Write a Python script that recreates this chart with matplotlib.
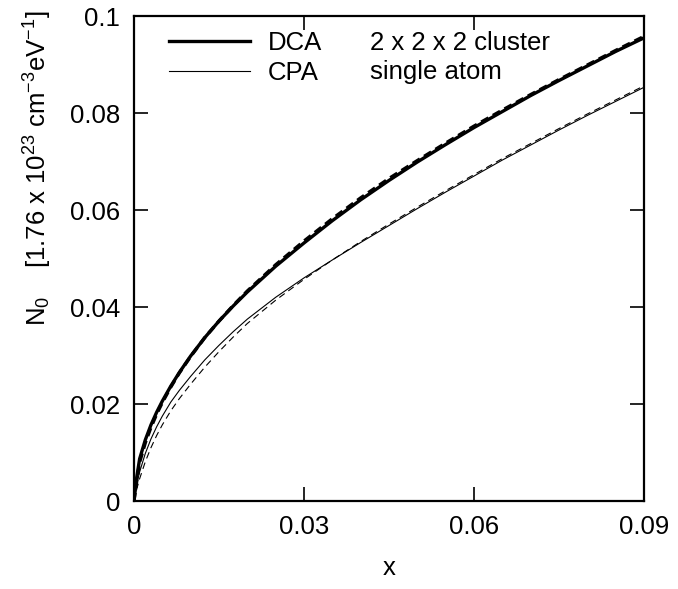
import matplotlib
matplotlib.use("Agg")
import matplotlib.pyplot as plt
from matplotlib.lines import Line2D

plt.rcParams['font.family'] = ['Liberation Sans', 'DejaVu Sans']
plt.rcParams['mathtext.fontset'] = 'custom'
plt.rcParams['mathtext.rm'] = 'Liberation Sans'
plt.rcParams['mathtext.it'] = 'Liberation Sans'
plt.rcParams['mathtext.default'] = 'regular'

# shared x grid
x_vals = [0, 0.0005, 0.001, 0.002, 0.003, 0.004, 0.005, 0.0065, 0.008, 0.01,
          0.0125, 0.015, 0.0175, 0.02, 0.025, 0.03, 0.035, 0.04, 0.045, 0.05,
          0.055, 0.06, 0.065, 0.07, 0.075, 0.08, 0.085, 0.09]

# DCA 2x2x2 cluster
dca_solid = [0, 0.0050, 0.0087, 0.0126, 0.0157, 0.0183, 0.0206, 0.0237, 0.0265, 0.0299,
             0.0337, 0.0371, 0.0402, 0.0431, 0.0484, 0.0532, 0.0578, 0.0621, 0.0661, 0.0699,
             0.0735, 0.0770, 0.0803, 0.0836, 0.0867, 0.0897, 0.0927, 0.0955]
dca_dashed = [0, 0.0042, 0.0080, 0.0120, 0.0152, 0.0179, 0.0203, 0.0235, 0.0264, 0.0298,
              0.0337, 0.0371, 0.0403, 0.0433, 0.0487, 0.0536, 0.0582, 0.0625, 0.0665, 0.0702,
              0.0738, 0.0773, 0.0806, 0.0838, 0.0869, 0.0899, 0.0929, 0.0958]

# CPA single atom
cpa_solid = [0, 0.0035, 0.0060, 0.0098, 0.0128, 0.0153, 0.0175, 0.0204, 0.0228, 0.0257,
             0.0291, 0.0321, 0.0349, 0.0375, 0.0420, 0.0460, 0.0497, 0.0533, 0.0568, 0.0603,
             0.0637, 0.0670, 0.0703, 0.0734, 0.0765, 0.0795, 0.0824, 0.0853]
cpa_dashed = [0, 0.0025, 0.0046, 0.0081, 0.0110, 0.0135, 0.0157, 0.0186, 0.0211, 0.0241,
              0.0276, 0.0308, 0.0338, 0.0366, 0.0414, 0.0457, 0.0497, 0.0535, 0.0571, 0.0606,
              0.0640, 0.0673, 0.0706, 0.0737, 0.0768, 0.0798, 0.0827, 0.0856]

xticks = [0, 0.03, 0.06, 0.09]
xticklabels = ['0', '0.03', '0.06', '0.09']
yticks = [0, 0.02, 0.04, 0.06, 0.08, 0.1]
yticklabels = ['0', '0.02', '0.04', '0.06', '0.08', '0.1']

fig = plt.figure(figsize=(6.78, 5.89), dpi=100)
ax = fig.add_axes([0.1976, 0.1494, 0.7523, 0.8234])

ax.plot(x_vals, dca_solid, color='black', lw=2.4)
ax.plot(x_vals, dca_dashed, color='black', lw=2.4, ls=(0, (2.5, 1.5)))
ax.plot(x_vals, cpa_solid, color='black', lw=0.8)
ax.plot(x_vals, cpa_dashed, color='black', lw=0.8, ls=(0, (6, 4)))

ax.set_xlim(0, 0.09)
ax.set_ylim(0, 0.1)
ax.set_xticks(xticks)
ax.set_xticklabels(xticklabels)
ax.set_yticks(yticks)
ax.set_yticklabels(yticklabels)
ax.tick_params(direction='in', length=10, width=1.2, labelsize=18.5,
               top=True, right=True, pad=10)
for s in ax.spines.values():
    s.set_linewidth(1.6)

ax.set_xlabel('x', fontsize=18.5, labelpad=12)
fig.text(0.056, 0.715,
         r'N$_0$    [1.76 x 10$^{23}$ cm$^{-3}$eV$^{-1}$]',
         rotation=90, ha='center', va='center', fontsize=18.5)

handles = [Line2D([], [], color='black', lw=2.4),
           Line2D([], [], color='black', lw=0.8)]
ax.legend(handles, ['DCA', 'CPA'], loc='upper left', frameon=False,
          fontsize=18.5, handlelength=3.15, handletextpad=0.7,
          labelspacing=0.23, bbox_to_anchor=(0.049, 0.991), borderaxespad=0)
ax.text(0.462, 0.945, '2 x 2 x 2 cluster', transform=ax.transAxes,
        fontsize=18.5, va='center')
ax.text(0.462, 0.885, 'single atom', transform=ax.transAxes,
        fontsize=18.5, va='center')

fig.savefig('out.png', dpi=100)
